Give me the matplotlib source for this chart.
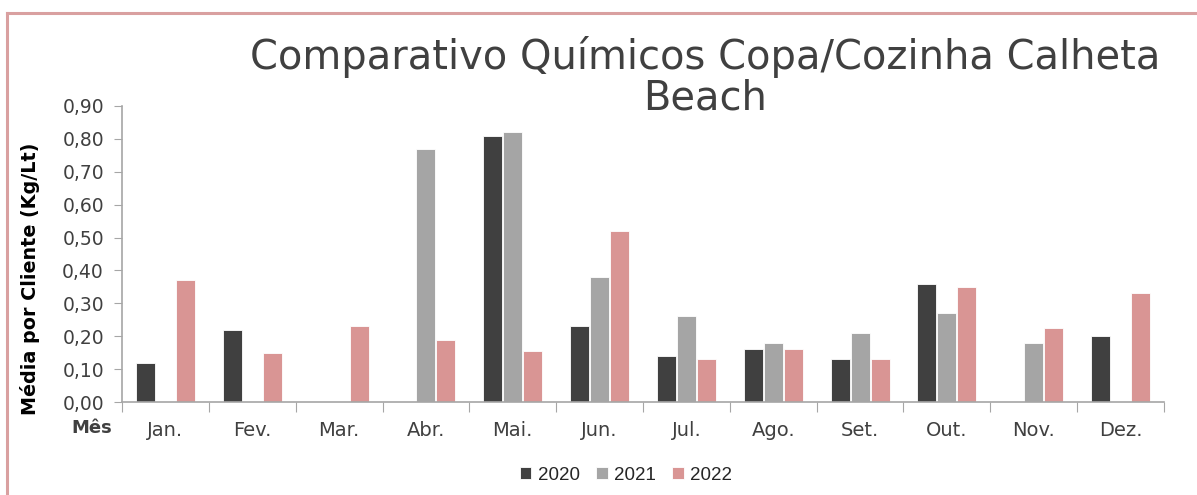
import numpy as np
import matplotlib.pyplot as plt
from matplotlib.lines import Line2D
from matplotlib.ticker import FuncFormatter

# Data (NaN = no bar)
meses = ["Jan.", "Fev.", "Mar.", "Abr.", "Mai.", "Jun.", "Jul.", "Ago.", "Set.", "Out.", "Nov.", "Dez."]
anos = ["2020", "2021", "2022"]
v2020 = [0.12, 0.22, np.nan, np.nan, 0.81, 0.23, 0.14, 0.16, 0.13, 0.36, np.nan, 0.20]
v2021 = [np.nan, np.nan, np.nan, 0.77, 0.82, 0.38, 0.26, 0.18, 0.21, 0.27, 0.18, np.nan]
v2022 = [0.37, 0.15, 0.23, 0.19, 0.155, 0.52, 0.13, 0.16, 0.13, 0.35, 0.225, 0.33]
cores = ["#404040", "#A5A5A5", "#D99594"]

fonte = "DejaVu Sans"
eixo_cor = "#A6A6A6"
texto_cor = "#404040"

fig = plt.figure(figsize=(11.97, 4.95), dpi=100)
ax = fig.add_axes([122 / 1197, 93 / 495, 1042 / 1197, 296 / 495])

x = np.arange(len(meses))
largura = 0.22
passo = 0.23
for i, (serie, cor) in enumerate(zip([v2020, v2021, v2022], cores)):
    ax.bar(x + (i - 1) * passo, serie, width=largura, color=cor,
           edgecolor="white", linewidth=0.6, label=anos[i])

ax.set_xlim(-0.5, len(meses) - 0.5)
ax.set_ylim(0, 0.90)
ax.set_yticks(np.arange(0, 0.91, 0.10))
ax.yaxis.set_major_formatter(FuncFormatter(lambda v, p: f"{v:.2f}".replace(".", ",")))

# tick marks between categories, labels at centres
ax.set_xticks(np.arange(-0.5, len(meses), 1.0))
ax.set_xticklabels([])
ax.set_xticks(x, minor=True)
ax.set_xticklabels(meses, minor=True, fontfamily=fonte, fontsize=14, color=texto_cor)
ax.tick_params(axis="x", which="major", length=7, color=eixo_cor, direction="out")
ax.tick_params(axis="x", which="minor", length=0, pad=14)
ax.tick_params(axis="y", length=6, color=eixo_cor, pad=7, labelsize=13.5, labelcolor=texto_cor)
for lbl in ax.get_yticklabels():
    lbl.set_fontfamily(fonte)

for s in ["top", "right"]:
    ax.spines[s].set_visible(False)
for s in ["left", "bottom"]:
    ax.spines[s].set_color(eixo_cor)
    ax.spines[s].set_linewidth(1.2)

ax.set_ylabel("Média por Cliente (Kg/Lt)", fontsize=13.8, fontweight="bold",
              fontfamily=fonte, color="black")
ax.yaxis.set_label_coords(-0.079, 0.415)

fig.text(92 / 1197, 1 - 428 / 495, "Mês", ha="center", va="center", fontsize=13,
         fontweight="bold", fontfamily=fonte, color=texto_cor)

fig.text(705 / 1197, 1 - 57 / 495, "Comparativo Químicos Copa/Cozinha Calheta",
         ha="center", va="center", fontsize=28.8, fontfamily=fonte, color=texto_cor)
fig.text(705 / 1197, 1 - 99 / 495, "Beach",
         ha="center", va="center", fontsize=28.8, fontfamily=fonte, color=texto_cor)

ax.legend(loc="center", bbox_to_anchor=(0.484, -0.247), ncol=3, frameon=False,
          prop={"family": "Liberation Sans", "size": 13.5}, handlelength=0.6,
          handleheight=0.6, handletextpad=0.37, columnspacing=0.85, labelcolor="#262626")

# pink frame around the chart area
borda = "#D9A0A0"
fig.add_artist(Line2D([7 / 1197, 1.0], [1 - 13 / 495, 1 - 13 / 495], color=borda, lw=2.2,
                      transform=fig.transFigure))
fig.add_artist(Line2D([7 / 1197, 7 / 1197], [0.0, 1 - 13 / 495], color=borda, lw=2.2,
                      transform=fig.transFigure))

fig.savefig("out.png", dpi=100)
